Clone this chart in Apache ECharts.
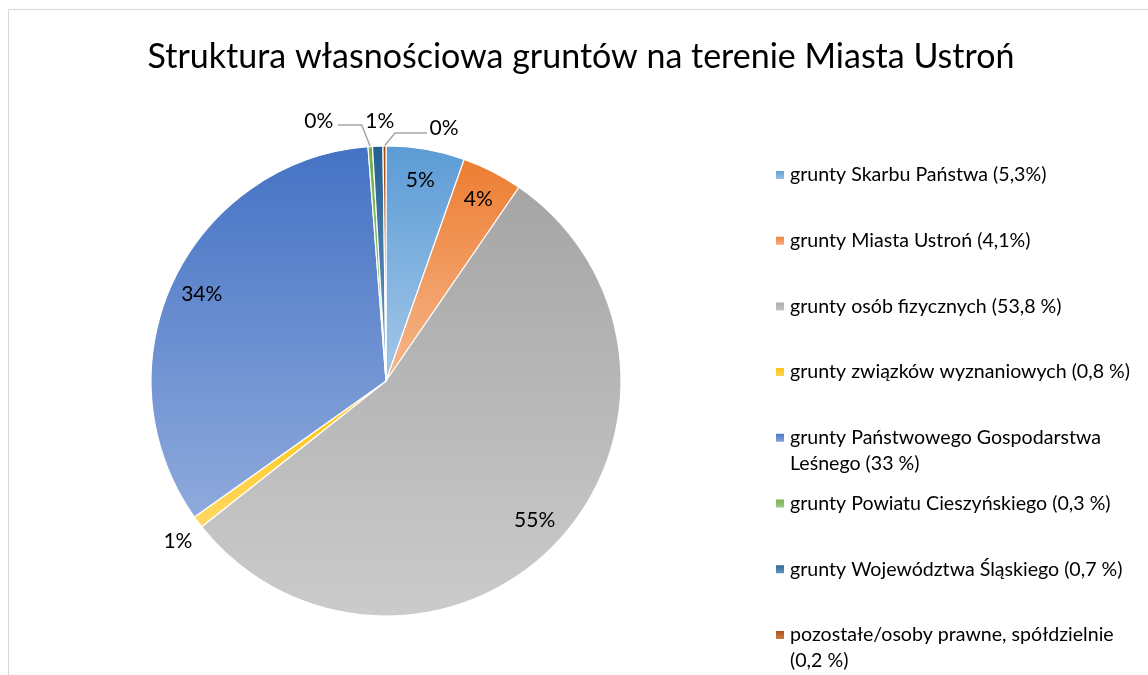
<!DOCTYPE html>
<html>
<head>
<meta charset="utf-8">
<script src="https://cdn.jsdelivr.net/npm/echarts@6/dist/echarts.min.js"></script>
<style>
  html, body { margin: 0; padding: 0; background: #fff; }
  #chart { width: 1148px; height: 675px; }
</style>
</head>
<body>
<div id="chart"></div>
<script>
// kategorie gruntów i ich udział (%)
var categories = [
  'grunty Skarbu Państwa (5,3%)',
  'grunty Miasta Ustroń (4,1%)',
  'grunty osób fizycznych (53,8 %)',
  'grunty związków wyznaniowych (0,8 %)',
  'grunty Państwowego Gospodarstwa Leśnego (33 %)',
  'grunty Powiatu Cieszyńskiego (0,3 %)',
  'grunty Województwa Śląskiego (0,7 %)',
  'pozostałe/osoby prawne, spółdzielnie (0,2 %)'
];
var shares = [5.3, 4.1, 53.8, 0.8, 33, 0.3, 0.7, 0.2];

var colorsTop = ['#5B9BD5', '#ED7D31', '#A5A5A5', '#FFC000', '#4472C4', '#70AD47', '#255E91', '#9E480E'];
var colorsBottom = ['#A4C8EA', '#F6B78D', '#CBCBCB', '#FFD966', '#8FAADC', '#A9D18E', '#6F9CC8', '#D9844C'];

var FONT = 'Lato';
var LEGEND_SIZE = 19.6;
var LEGEND_WIDTH = 350;
var LINE_H = 26;
var BLANK = '\u00a0';

function grad(i) {
  return new echarts.graphic.LinearGradient(0, 0, 0, 1, [
    { offset: 0, color: colorsTop[i] },
    { offset: 1, color: colorsBottom[i] }
  ]);
}

// zawijanie nazw w legendzie po słowach
var ctx = document.createElement('canvas').getContext('2d');
ctx.font = LEGEND_SIZE + 'px ' + FONT;
function wrapName(txt) {
  var words = txt.split(' ');
  var lines = [];
  var cur = '';
  words.forEach(function (w) {
    var test = cur ? cur + ' ' + w : w;
    if (cur && ctx.measureText(test).width > LEGEND_WIDTH) {
      lines.push(cur);
      cur = w;
    } else {
      cur = test;
    }
  });
  lines.push(cur);
  // każda pozycja ma 3 linie: pusta, pierwsza (na wysokości ikony), druga lub pusta
  return [BLANK, lines[0], lines[1] || BLANK].join('\n');
}

var mainData = [];
var ringData = [];
var legendText = {};
for (var i = 0; i < categories.length; i++) {
  var small = shares[i] < 1;
  mainData.push({
    name: categories[i],
    value: shares[i],
    itemStyle: { color: grad(i) },
    label: { show: small },
    labelLine: { show: small }
  });
  ringData.push({
    name: categories[i],
    value: shares[i],
    label: { show: !small }
  });
  legendText[categories[i]] = wrapName(categories[i]);
}

// pozycje etykiet małych wycinków liczone od punktu na brzegu wycinka
function smallLabels(p) {
  var pts = p.labelLinePoints;
  if (!pts) return;
  var x0 = pts[0][0], y0 = pts[0][1];
  var none = [[x0, y0], [x0, y0], [x0, y0]];
  switch (p.dataIndex) {
    case 3:
      return { x: x0 - 20, y: y0 + 19, align: 'center', verticalAlign: 'middle', labelLinePoints: none, hideOverlap: false };
    case 5:
      return { x: x0 - 37, y: y0 - 25, align: 'right', verticalAlign: 'middle',
        labelLinePoints: [[x0, y0], [x0 - 8.5, y0 - 21.5], [x0 - 32.5, y0 - 21.5]], hideOverlap: false };
    case 6:
      return { x: x0 + 2, y: y0 - 25, align: 'center', verticalAlign: 'middle', labelLinePoints: none, hideOverlap: false };
    case 7:
      return { x: x0 + 45, y: y0 - 18, align: 'left', verticalAlign: 'middle',
        labelLinePoints: [[x0, y0], [x0 + 10.5, y0 - 13], [x0 + 42.5, y0 - 13]], hideOverlap: false };
  }
}

var chart = echarts.init(document.getElementById('chart'), null, { renderer: 'canvas' });

var option = {
  backgroundColor: '#fff',
  animation: false,
  title: {
    text: 'Struktura własnościowa gruntów na terenie Miasta Ustroń',
    left: 576,
    textAlign: 'center',
    top: 35,
    textStyle: { fontFamily: FONT, fontSize: 34, fontWeight: 'normal', color: '#000' }
  },
  graphic: [{
    type: 'rect',
    silent: true,
    shape: { x: 8.5, y: 9.5, width: 1300, height: 800 },
    style: { fill: null, stroke: '#d9d9d9', lineWidth: 1 }
  }],
  legend: {
    orient: 'vertical',
    left: 769,
    top: 131,
    height: 700,
    itemWidth: 10,
    itemHeight: 10,
    itemGap: -12.3,
    icon: 'rect',
    data: categories,
    formatter: function (name) { return legendText[name]; },
    textStyle: {
      fontFamily: FONT,
      fontSize: LEGEND_SIZE,
      color: '#000',
      lineHeight: LINE_H
    }
  },
  series: [{
    name: 'grunty',
    type: 'pie',
    center: [386, 381],
    radius: 235,
    startAngle: 90,
    clockwise: true,
    avoidLabelOverlap: false,
    itemStyle: { borderColor: '#fff', borderWidth: 1.2 },
    emphasis: { disabled: true },
    label: {
      position: 'outside',
      formatter: function (p) { return Math.round(p.percent) + '%'; },
      fontFamily: FONT,
      fontSize: 21,
      color: '#000'
    },
    labelLine: {
      length: 14,
      length2: 22,
      lineStyle: { color: '#a6a6a6', width: 1.5 }
    },
    labelLayout: smallLabels,
    data: mainData
  }, {
    name: 'etykiety',
    type: 'pie',
    center: [386, 381],
    radius: [166, 235],
    startAngle: 90,
    clockwise: true,
    silent: true,
    emphasis: { disabled: true },
    itemStyle: { color: 'rgba(0,0,0,0)' },
    label: {
      position: 'inside',
      formatter: function (p) { return Math.round(p.percent) + '%'; },
      fontFamily: FONT,
      fontSize: 21,
      color: '#000'
    },
    labelLine: { show: false },
    data: ringData
  }]
};

chart.setOption(option);
</script>
</body>
</html>
